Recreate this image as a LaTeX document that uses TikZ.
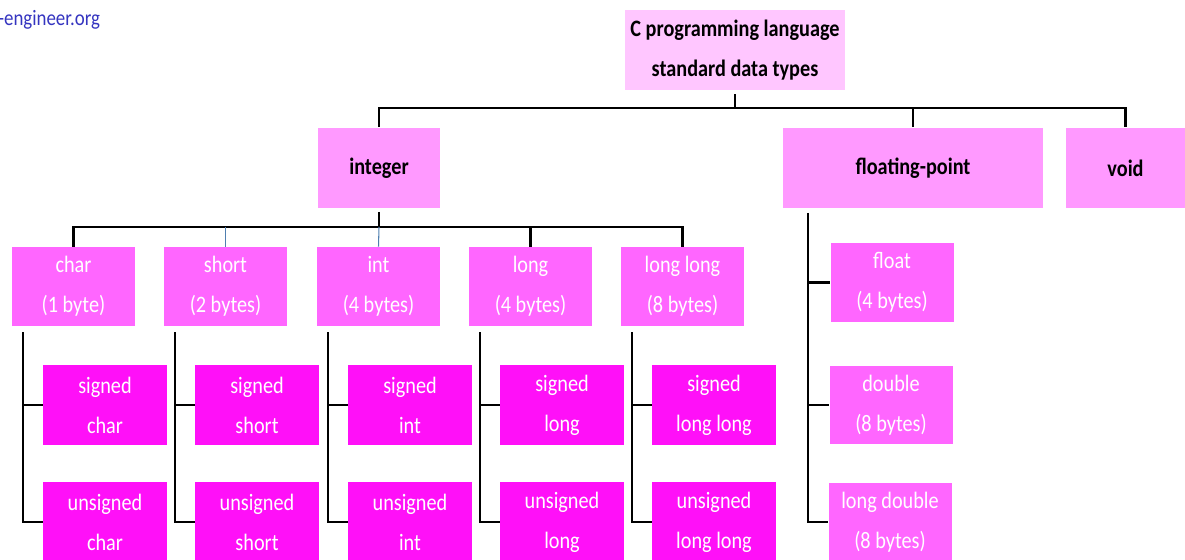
\documentclass[tikz,border=0pt]{standalone}
\usepackage{fontspec}
\setmainfont{Carlito}[FakeStretch=0.86]
\usepackage{tikz}
\usetikzlibrary{positioning, calc}

\definecolor{rootpink}{HTML}{FFC6FF}
\definecolor{grouppink}{HTML}{FF99FF}
\definecolor{typepink}{HTML}{FF66FF}
\definecolor{leafpink}{HTML}{FF10F8}
\definecolor{sitecol}{HTML}{3535C0}
\definecolor{thinblue}{HTML}{4F7FB0}

\begin{document}
\begin{tikzpicture}[
    x=0.02cm, y=-0.02cm,
    box/.style={inner sep=0pt, align=center, font=\fontsize{13.4}{22.8}\selectfont},
    rootbox/.style={box, fill=rootpink, font=\fontsize{13.4}{22.8}\selectfont\bfseries, minimum width=4.4cm, minimum height=1.6cm},
    groupbox/.style={box, fill=grouppink, font=\fontsize{13.4}{22.8}\selectfont\bfseries, minimum height=1.62cm},
    typebox/.style={box, fill=typepink, text=white, minimum width=2.46cm, minimum height=1.58cm},
    leafbox/.style={box, fill=leafpink, text=white, minimum width=2.48cm, minimum height=1.6cm},
    link/.style={line width=1.3pt},
    thinlink/.style={line width=0.6pt, thinblue},
]
    \useasboundingbox (0,0) rectangle (1185,560);

    % site mark
    \node[font=\fontsize{12.5}{14}\selectfont, text=sitecol, anchor=west, inner sep=0pt] (site) at (-2,20) {-engineer.org};

    % root and first level
    \node[rootbox] (root) at (735,50) {C programming language\\standard data types};
    \node[groupbox, minimum width=2.46cm] (integer) at (379,168) {integer};
    \node[groupbox, minimum width=5.2cm] (fp) at (913,168) {floating-point};
    \node[groupbox, minimum width=2.38cm] (void) at (1125.5,168) {void};

    % integer types
    \node[typebox] (char) at (73.5,286.5) {char\\(1 byte)};
    \node[typebox] (short) at (225.5,286.5) {short\\(2 bytes)};
    \node[typebox] (int) at (378.5,286.5) {int\\(4 bytes)};
    \node[typebox] (long) at (530.5,286.5) {long\\(4 bytes)};
    \node[typebox] (llong) at (682.5,286.5) {long long\\(8 bytes)};

    % signed / unsigned
    \node[leafbox] (schar) at (105,405) {signed\\char};
    \node[leafbox] (uchar) at (105,522) {unsigned\\char};
    \node[leafbox] (sshort) at (257,405) {signed\\short};
    \node[leafbox] (ushort) at (257,522) {unsigned\\short};
    \node[leafbox] (sint) at (410,405) {signed\\int};
    \node[leafbox] (uint) at (410,522) {unsigned\\int};
    \node[leafbox] (slong) at (562,405) {signed\\long};
    \node[leafbox] (ulong) at (562,522) {unsigned\\long};
    \node[leafbox] (sllong) at (714,405) {signed\\long long};
    \node[leafbox] (ullong) at (714,522) {unsigned\\long long};

    % floating-point types
    \node[typebox] (float) at (892,282.5) {float\\(4 bytes)};
    \node[typebox] (double) at (891,405) {double\\(8 bytes)};
    \node[typebox] (ldouble) at (890,522) {long double\\(8 bytes)};

    % top bus
    \coordinate (topbus) at (735,108);
    \draw[link] ([yshift=-0.08cm]root.south) -- (topbus);
    \draw[link] (integer.north) -- (integer.north |- topbus) -- (void.north |- topbus) -- (void.north);
    \draw[link] (fp.north) -- (fp.north |- topbus);

    % integer bus
    \coordinate (intbus) at (379,227);
    \draw[link] ([yshift=-0.06cm]integer.south) -- (intbus);
    \draw[link] (char.north) -- (char.north |- intbus) -- (llong.north |- intbus) -- (llong.north);
    \draw[link] (long.north) -- (long.north |- intbus);
    \draw[thinlink] (short.north) -- (short.north |- intbus);
    \draw[thinlink] (int.north) -- (intbus);

    % signed / unsigned links
    \draw[link] ([shift={(0.22cm,-0.12cm)}]char.south west) |- (uchar.west);
    \draw[link] ([xshift=0.22cm]char.south west |- schar.west) -- (schar.west);
    \draw[link] ([shift={(0.22cm,-0.12cm)}]short.south west) |- (ushort.west);
    \draw[link] ([xshift=0.22cm]short.south west |- sshort.west) -- (sshort.west);
    \draw[link] ([shift={(0.22cm,-0.12cm)}]int.south west) |- (uint.west);
    \draw[link] ([xshift=0.22cm]int.south west |- sint.west) -- (sint.west);
    \draw[link] ([shift={(0.22cm,-0.12cm)}]long.south west) |- (ulong.west);
    \draw[link] ([xshift=0.22cm]long.south west |- slong.west) -- (slong.west);
    \draw[link] ([shift={(0.22cm,-0.12cm)}]llong.south west) |- (ullong.west);
    \draw[link] ([xshift=0.22cm]llong.south west |- sllong.west) -- (sllong.west);

    % floating-point links
    \draw[link] ([shift={(0.5cm,-0.08cm)}]fp.south west) |- (ldouble.west);
    \draw[link] ([xshift=0.5cm]fp.south west |- float.west) -- (float.west);
    \draw[link] ([xshift=0.5cm]fp.south west |- double.west) -- (double.west);

\end{tikzpicture}
\end{document}
